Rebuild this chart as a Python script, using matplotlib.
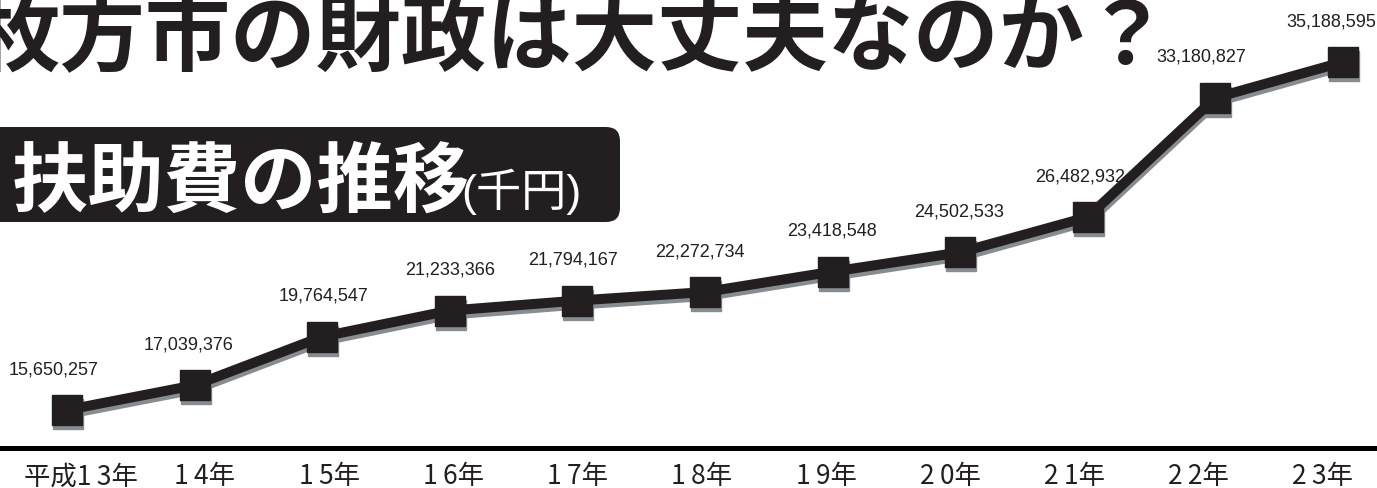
import matplotlib
matplotlib.use('Agg')
import matplotlib.pyplot as plt
import matplotlib.transforms as mtransforms
from matplotlib.patches import FancyBboxPatch

# 扶助費（千円）
years = ['平成1\u20093年', '1\u20094年', '1\u20095年', '1\u20096年', '1\u20097年', '1\u20098年',
         '1\u20099年', '2\u20090年', '2\u20091年', '2\u20092年', '2\u20093年']
values = [15650257, 17039376, 19764547, 21233366, 21794167, 22272734,
          23418548, 24502533, 26482932, 33180827, 35188595]

title = '枚方市の財政は大丈夫なのか？'
subtitle = '扶助費の推移'
unit = '(千円)'

DARK = '#231f20'
SHADOW = '#878c91'
JP = ['Noto Sans CJK JP', 'DejaVu Sans']

# small horizontal nudges of the value labels (pixels)
label_dx = [-13, -6, 1, 0, -4, -5, -1, -1, -8, -14, -12]

W, H = 1377, 488
fig = plt.figure(figsize=(W / 100, H / 100), dpi=100)
ax = fig.add_axes([0, 40 / H, 1, 448 / H])

x = list(range(len(values)))
shadow_tr = mtransforms.offset_copy(ax.transData, fig=fig, x=1, y=-4, units='dots')
ax.plot(x, values, color=SHADOW, lw=7.2, marker='s', ms=22, mec=SHADOW,
        solid_joinstyle='miter', transform=shadow_tr, zorder=2)
ax.plot(x, values, color=DARK, lw=7.2, marker='s', ms=22, mec=DARK,
        solid_joinstyle='miter', zorder=3)

for i, v in enumerate(values):
    ax.annotate(f'{v:,}', (i, v), xytext=(label_dx[i] * 0.72, 29),
                textcoords='offset points', ha='center', va='center',
                fontsize=13, color=DARK, family='Liberation Sans', zorder=1)

ax.set_xlim(-67 / 127.6, (W - 67) / 127.6)
ax.set_ylim(13.516e6, 38.67e6)
# the year labels in the original run on a slightly tighter spacing than the points
ax.set_xticks([0.108 + 0.9734 * i for i in x])
ax.set_xticklabels(years, family=JP, fontsize=19, color=DARK)
ax.set_yticks([])
ax.tick_params(axis='x', length=0, pad=11)
for s in ['top', 'left', 'right']:
    ax.spines[s].set_visible(False)
ax.spines['bottom'].set_linewidth(3.6)
ax.spines['bottom'].set_color('black')
ax.patch.set_visible(False)

# title
fig.text(-26 / W, 1 + 4 / H, title, family=JP, fontsize=61.5, fontweight='bold',
         color=DARK, ha='left', va='top')

# subtitle box
box = FancyBboxPatch((-30, H - 222), 650, 95,
                     boxstyle='round,pad=0,rounding_size=14',
                     transform=mtransforms.IdentityTransform(),
                     facecolor=DARK, edgecolor='none')
fig.add_artist(box)
fig.text(12 / W, (H - 206) / H, subtitle, family=JP, fontsize=55,
         fontweight='bold', color='white', ha='left', va='baseline')
fig.text(461 / W, (H - 206) / H, unit, family=['Liberation Sans', 'Noto Sans CJK JP'],
         fontsize=32.5, color='white', ha='left', va='baseline')

fig.savefig('out.png', dpi=100)
